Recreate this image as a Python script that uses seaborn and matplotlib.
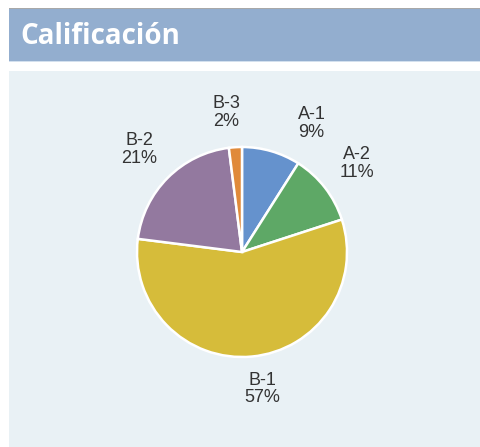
import numpy as np
import matplotlib
matplotlib.use('Agg')
import matplotlib.pyplot as plt
import seaborn as sns
from matplotlib.patches import Rectangle

# datos
categorias = ['A-1', 'A-2', 'B-1', 'B-2', 'B-3']
porcentajes = [9, 11, 57, 21, 2]
colores = ['#6592CD', '#5EA866', '#D6BC3A', '#93799F', '#E08A3A']
titulo = 'Calificación'

sns.set_theme(style='white')
plt.rcParams['font.family'] = ['Liberation Sans', 'DejaVu Sans']

W, H = 481, 447
fig = plt.figure(figsize=(W / 100, H / 100), dpi=100)
fig.patch.set_facecolor('white')

# cabecera y panel
def caja(x, y, w, h, color):
    fig.patches.append(Rectangle((x / W, 1 - (y + h) / H), w / W, h / H,
                                 transform=fig.transFigure, facecolor=color,
                                 edgecolor='none', zorder=-5))

caja(9, 8, 480, 53, '#93AECF')
caja(9, 8, 480, 1, '#A8A8A8')
caja(9, 61, 480, 1, '#D3E0EE')
caja(9, 71, 480, H - 71, '#E9F1F5')
fig.text(20 / W, 1 - 37 / H, titulo, color='white', fontsize=20, fontweight='bold',
         family=['Open Sans', 'DejaVu Sans'], va='center', ha='left')

# tarta
cx, cy, r, half = 242, 252, 105, 160
ax = fig.add_axes([(cx - half) / W, 1 - (cy + half) / H, 2 * half / W, 2 * half / H])
ax.set_zorder(5)
ax.patch.set_visible(False)
etiquetas = [f'{c}\n{p}%' for c, p in zip(categorias, porcentajes)]
wedges, textos = ax.pie(porcentajes, colors=colores, startangle=90, counterclock=False,
                        labels=etiquetas, labeldistance=1.38,
                        wedgeprops=dict(edgecolor='white', linewidth=1.8),
                        textprops=dict(fontsize=13, color='#333333', linespacing=1.05))
for t in textos:
    t.set_ha('center')
    t.set_va('center')

# algunas etiquetas se apartan como en el original (ángulo, distancia)
ajustes = {'A-1': (61.5, 1.39), 'B-1': (-81.7, 1.32), 'B-3': (96.5, 1.34)}
for t, c in zip(textos, categorias):
    if c in ajustes:
        a, d = ajustes[c]
        t.set_position((d * np.cos(np.deg2rad(a)), d * np.sin(np.deg2rad(a))))

lim = half / r
ax.set_xlim(-lim, lim)
ax.set_ylim(-lim, lim)
ax.set_aspect('equal')
ax.axis('off')

fig.savefig('out.png', dpi=100)
